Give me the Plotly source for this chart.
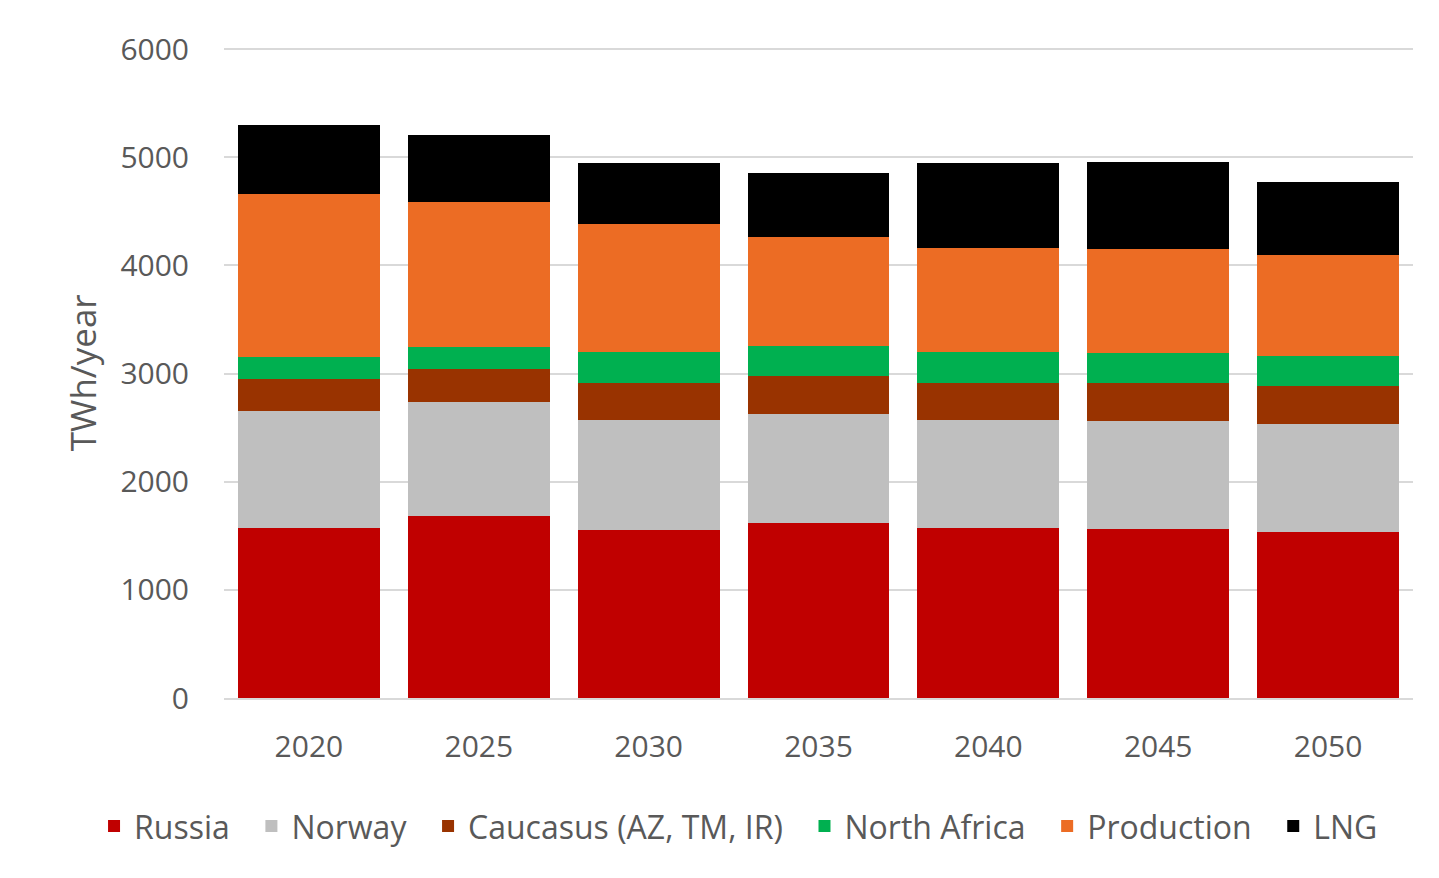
import plotly.graph_objs as go

years = ["2020", "2025", "2030", "2035", "2040", "2045", "2050"]

russia = [1576, 1687, 1557, 1619, 1569, 1564, 1539]
norway = [1081, 1050, 1017, 1010, 998, 994, 995]
caucasus = [293, 306, 339, 349, 342, 351, 348]
north_africa = [200, 203, 283, 273, 287, 278, 283]
production = [1513, 1343, 1189, 1008, 965, 965, 934]
lng = [640, 616, 561, 595, 782, 804, 677]

series = [
    ("Russia", russia, "#C00000"),
    ("Norway", norway, "#BFBFBF"),
    ("Caucasus (AZ, TM, IR)", caucasus, "#993300"),
    ("North Africa", north_africa, "#00B050"),
    ("Production", production, "#EC6C24"),
    ("LNG", lng, "#000000"),
]

fig = go.Figure()
for i, (name, values, color) in enumerate(series):
    # pad legend entries a bit so the spacing looks like the original
    label = name if i == len(series) - 1 else name + "\u00a0\u00a0"
    fig.add_trace(go.Bar(x=years, y=values, name=label,
                         marker_color=color, marker_line_width=0))

grey = "#595959"
# the page body has an 8px margin, so the figure is a bit smaller than the window
fig.update_layout(
    barmode="stack",
    bargap=0.165,
    width=1431, height=870,
    margin=dict(l=216, r=26, t=39, b=180, autoexpand=False),
    paper_bgcolor="white",
    plot_bgcolor="white",
    font=dict(family="Open Sans", color=grey),
    showlegend=True,
    legend=dict(orientation="h", x=-0.1093, xanchor="left",
                y=-0.197, yanchor="middle",
                font=dict(family="Open Sans", size=32, color=grey),
                traceorder="normal", itemwidth=30),
)

fig.update_yaxes(range=[0, 6020], tickvals=[0, 1000, 2000, 3000, 4000, 5000, 6000],
                 showgrid=True, automargin=False,
                 gridcolor="#D9D9D9", gridwidth=2, zeroline=False,
                 tickfont=dict(size=30, color=grey), ticks="",
                 ticklabelstandoff=34)
fig.update_xaxes(showline=True, linecolor="#D9D9D9", linewidth=2, automargin=False,
                 tickfont=dict(size=30, color=grey), ticks="",
                 ticklabelstandoff=21)

fig.add_annotation(text="TWh/year", textangle=-90, showarrow=False,
                   xref="paper", yref="paper", x=-0.1194, y=0.499,
                   xanchor="center", yanchor="middle",
                   font=dict(size=35, color=grey, family="Open Sans"))

fig.write_html("out.html")
